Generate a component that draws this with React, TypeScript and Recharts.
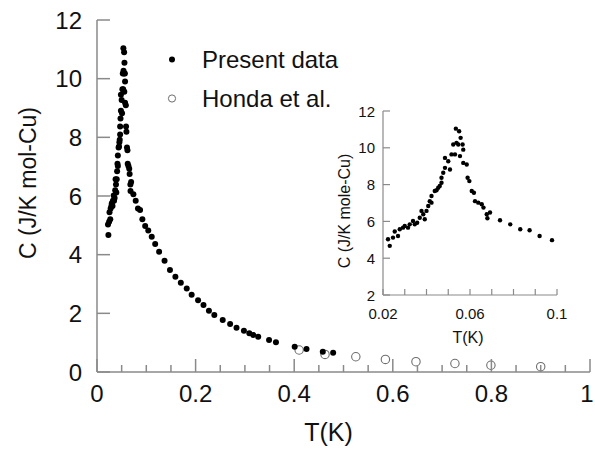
import React from 'react';
import { ScatterChart, Scatter, XAxis, YAxis, Legend } from 'recharts';

// Present data, low-T part (the peak region, also shown in the inset)
const peakT = [
  0.0223, 0.0231, 0.0246, 0.0254, 0.0269, 0.0277, 0.0292, 0.030, 0.0315, 0.0323,
  0.0338, 0.0346, 0.0357, 0.0369, 0.0377, 0.0385, 0.0392, 0.040, 0.0408, 0.0415,
  0.0423, 0.0423, 0.0438, 0.0446, 0.0454, 0.0461, 0.0469, 0.0469, 0.0477, 0.0485,
  0.0485, 0.050, 0.0508, 0.0515, 0.0523, 0.0531, 0.0535, 0.0538, 0.0546, 0.055,
  0.0554, 0.0557, 0.0566, 0.0569, 0.0569, 0.0585, 0.0589, 0.0597, 0.0608, 0.0618,
  0.0623, 0.0638, 0.0654, 0.0662, 0.0677, 0.068, 0.0692, 0.0738, 0.0785, 0.0831,
  0.0874, 0.092, 0.0977,
];
const peakC = [
  5.03, 4.67, 5.12, 5.45, 5.21, 5.57, 5.66, 5.75, 5.66, 5.84,
  6.02, 5.84, 5.93, 6.2, 6.57, 6.39, 6.12, 6.57, 6.84, 7.1,
  7.38, 7.02, 7.65, 7.69, 7.83, 7.92, 8.1, 8.37, 8.64, 8.91,
  9.45, 9.27, 8.82, 9.64, 10.18, 9.64, 11.04, 10.27, 10.18, 10.9,
  9.55, 10.54, 10.18, 9.9, 9.18, 9.09, 8.37, 8.19, 7.65, 7.56,
  7.1, 7.02, 6.93, 6.75, 6.39, 6.17, 6.48, 6.06, 5.84, 5.57,
  5.52, 5.21, 4.98,
];

// Present data, tail above 0.1 K
const tailT = [
  0.104, 0.111, 0.118, 0.126, 0.137, 0.148, 0.159, 0.170, 0.182, 0.192,
  0.205, 0.216, 0.227, 0.238, 0.255, 0.270, 0.283, 0.298, 0.309, 0.317,
  0.327, 0.349, 0.363, 0.401, 0.425, 0.458, 0.479,
];
const tailC = [
  4.82, 4.61, 4.36, 4.10, 3.79, 3.48, 3.25, 3.04, 2.85, 2.63,
  2.45, 2.28, 2.09, 1.94, 1.77, 1.64, 1.51, 1.41, 1.32, 1.26,
  1.2, 1.09, 1.01, 0.86, 0.78, 0.69, 0.66,
];

// Honda et al.
const hondaT = [0.41, 0.4625, 0.525, 0.585, 0.647, 0.726, 0.799, 0.9];
const hondaC = [0.75, 0.6, 0.52, 0.43, 0.35, 0.29, 0.23, 0.18];

const mainXTicks = [0, 0.05, 0.1, 0.15, 0.2, 0.25, 0.3, 0.35, 0.4, 0.45, 0.5, 0.55, 0.6, 0.65, 0.7, 0.75, 0.8, 0.85, 0.9, 0.95, 1];
const mainYTicks = [0, 2, 4, 6, 8, 10, 12];
const insetXTicks = [0.02, 0.03, 0.04, 0.05, 0.06, 0.07, 0.08, 0.09, 0.1];
const insetXLabels = [0.02, 0.06, 0.1];
const insetYTicks = [2, 4, 6, 8, 10, 12];

const zip = (t: number[], c: number[]) => t.map((v, i) => ({ t: v, c: c[i] }));
const presentData = [...zip(peakT, peakC), ...zip(tailT, tailC)];
const hondaData = zip(hondaT, hondaC);
const insetData = zip(peakT, peakC);

const AXIS = '#8a8a8a';
const INK = '#111';
const FONT = '"Liberation Sans", Arial, Helvetica, sans-serif';

const near = (a: number, b: number) => Math.abs(a - b) < 1e-6;
const isMajor = (v: number) => near(v / 0.2, Math.round(v / 0.2));

// ── main chart ticks (drawn inward) ─────────────────────────
const BottomTick = ({ x, y, payload }: any) => {
  const v = payload.value;
  const major = isMajor(v);
  // the last label sits on the page edge, nudge it in a little
  const dx = near(v, 1) ? -3 : 0;
  return (
    <g>
      <line x1={x} y1={y} x2={x} y2={y - (major ? 13 : 7)} stroke={AXIS} strokeWidth={1.5} />
      {major && (
        <text x={x + dx} y={y + 21} textAnchor="middle" dominantBaseline="central" fontSize={24} fontFamily={FONT} fill={INK}>
          {String(Math.round(v * 10) / 10)}
        </text>
      )}
    </g>
  );
};
const TopTick = ({ x, y, payload }: any) => {
  const major = isMajor(payload.value);
  return <line x1={x} y1={y} x2={x} y2={y + (major ? 13 : 7)} stroke={AXIS} strokeWidth={1.5} />;
};
const LeftTick = ({ x, y, payload }: any) => (
  <g>
    <line x1={x} y1={y} x2={x + 13} y2={y} stroke={AXIS} strokeWidth={1.5} />
    <text x={x - 15} y={y} textAnchor="end" dominantBaseline="central" fontSize={24} fontFamily={FONT} fill={INK}>
      {payload.value}
    </text>
  </g>
);
const RightTick = ({ x, y }: any) => <line x1={x} y1={y} x2={x - 13} y2={y} stroke={AXIS} strokeWidth={1.5} />;

// ── inset ticks ─────────────────────────────────────────────
const InsetBottomTick = ({ x, y, payload }: any) => {
  const v = payload.value;
  const lab = insetXLabels.some((l) => near(l, v));
  return (
    <g>
      <line x1={x} y1={y} x2={x} y2={y - 6} stroke={AXIS} strokeWidth={1.2} />
      {lab && (
        <text x={x} y={y + 18} textAnchor="middle" dominantBaseline="central" fontSize={15} fontFamily={FONT} fill={INK}>
          {String(Math.round(v * 100) / 100)}
        </text>
      )}
    </g>
  );
};
const InsetTopTick = ({ x, y }: any) => <line x1={x} y1={y} x2={x} y2={y + 6} stroke={AXIS} strokeWidth={1.2} />;
const InsetLeftTick = ({ x, y, payload }: any) => (
  <g>
    <line x1={x} y1={y} x2={x + 7} y2={y} stroke={AXIS} strokeWidth={1.2} />
    <text x={x - 8} y={y} textAnchor="end" dominantBaseline="central" fontSize={15} fontFamily={FONT} fill={INK}>
      {payload.value}
    </text>
  </g>
);
const InsetRightTick = ({ x, y }: any) => <line x1={x} y1={y} x2={x - 7} y2={y} stroke={AXIS} strokeWidth={1.2} />;

const Dot = (r: number) => (p: any) => <circle cx={p.cx} cy={p.cy} r={r} fill="#000" />;
const OpenDot = (p: any) => <circle cx={p.cx} cy={p.cy} r={4.2} fill="none" stroke="#6e6e6e" strokeWidth={1.1} />;

const LegendBox = () => (
  <div style={{ fontFamily: FONT, fontSize: 24, color: INK, lineHeight: '39px' }}>
    <div style={{ display: 'flex', alignItems: 'center', height: 39 }}>
      <svg width={42} height={39}><circle cx={12} cy={19.5} r={3} fill="#000" /></svg>
      <span>Present data</span>
    </div>
    <div style={{ display: 'flex', alignItems: 'center', height: 39 }}>
      <svg width={42} height={39}><circle cx={12} cy={19.5} r={3.6} fill="none" stroke="#6e6e6e" strokeWidth={1} /></svg>
      <span>Honda et al.</span>
    </div>
  </div>
);

export default function App() {
  return (
    <div style={{ position: 'absolute', left: 0, top: 0, width: 595, height: 450, background: '#fff' }}>
      <ScatterChart width={595} height={450} margin={{ top: 20, right: 5, left: 0, bottom: 0 }}>
        <XAxis
          xAxisId="b" dataKey="t" type="number" domain={[0, 1]} ticks={mainXTicks} interval={0}
          allowDataOverflow height={78} tickLine={false} tickSize={0} tickMargin={0}
          axisLine={{ stroke: AXIS, strokeWidth: 1.5 }} tick={<BottomTick />}
          label={{
            content: ({ viewBox }: any) => (
              <text x={viewBox.x + viewBox.width / 2 - 15} y={viewBox.y + 60} textAnchor="middle"
                dominantBaseline="central" fontSize={25} fontFamily={FONT} fill={INK}>T(K)</text>
            ),
          }}
        />
        <XAxis
          xAxisId="t" orientation="top" dataKey="t" type="number" domain={[0, 1]} ticks={mainXTicks} interval={0}
          allowDataOverflow height={0} tickLine={false} tickSize={0} tickMargin={0}
          axisLine={{ stroke: AXIS, strokeWidth: 1.5 }} tick={<TopTick />}
        />
        <YAxis
          yAxisId="l" dataKey="c" type="number" domain={[0, 12]} ticks={mainYTicks} interval={0}
          allowDataOverflow width={97} tickLine={false} tickSize={0} tickMargin={0}
          axisLine={{ stroke: AXIS, strokeWidth: 1.5 }} tick={<LeftTick />}
          label={{
            content: ({ viewBox }: any) => {
              const cy = viewBox.y + viewBox.height / 2 - 13;
              return (
                <text x={28} y={cy} transform={`rotate(-90 28 ${cy})`} textAnchor="middle"
                  dominantBaseline="central" fontSize={23} fontFamily={FONT} fill={INK}>C (J/K mol-Cu)</text>
              );
            },
          }}
        />
        <YAxis
          yAxisId="r" orientation="right" dataKey="c" type="number" domain={[0, 12]} ticks={mainYTicks} interval={0}
          allowDataOverflow width={0} tickLine={false} tickSize={0} tickMargin={0}
          axisLine={{ stroke: AXIS, strokeWidth: 1.5 }} tick={<RightTick />}
        />
        <Legend
          layout="vertical" verticalAlign="middle" align="center"
          wrapperStyle={{ position: 'absolute', left: 160, top: 40, width: 200 }}
          content={() => <LegendBox />}
        />
        <Scatter name="Honda et al." data={hondaData} xAxisId="b" yAxisId="l" shape={OpenDot} isAnimationActive={false} />
        <Scatter name="Present data" data={presentData} xAxisId="b" yAxisId="l" shape={Dot(3)} isAnimationActive={false} />
      </ScatterChart>

      <div style={{ position: 'absolute', left: 330, top: 95 }}>
        <ScatterChart width={240} height={255} margin={{ top: 16, right: 13, left: 0, bottom: 0 }}>
          <XAxis
            xAxisId="b" dataKey="t" type="number" domain={[0.02, 0.1]} ticks={insetXTicks} interval={0}
            allowDataOverflow height={55} tickLine={false} tickSize={0} tickMargin={0}
            axisLine={{ stroke: AXIS, strokeWidth: 1.2 }} tick={<InsetBottomTick />}
            label={{
              content: ({ viewBox }: any) => (
                <text x={viewBox.x + viewBox.width / 2 - 2} y={viewBox.y + 42} textAnchor="middle"
                  dominantBaseline="central" fontSize={16} fontFamily={FONT} fill={INK}>T(K)</text>
              ),
            }}
          />
          <XAxis
            xAxisId="t" orientation="top" dataKey="t" type="number" domain={[0.02, 0.1]} ticks={insetXTicks} interval={0}
            allowDataOverflow height={0} tickLine={false} tickSize={0} tickMargin={0}
            axisLine={{ stroke: AXIS, strokeWidth: 1.2 }} tick={<InsetTopTick />}
          />
          <YAxis
            yAxisId="l" dataKey="c" type="number" domain={[2, 12]} ticks={insetYTicks} interval={0}
            allowDataOverflow width={53} tickLine={false} tickSize={0} tickMargin={0}
            axisLine={{ stroke: AXIS, strokeWidth: 1.2 }} tick={<InsetLeftTick />}
            label={{
              content: ({ viewBox }: any) => {
                const cy = viewBox.y + viewBox.height / 2 + 8;
                return (
                  <text x={14} y={cy} transform={`rotate(-90 14 ${cy})`} textAnchor="middle"
                    dominantBaseline="central" fontSize={16} fontFamily={FONT} fill={INK}>C (J/K mole-Cu)</text>
                );
              },
            }}
          />
          <YAxis
            yAxisId="r" orientation="right" dataKey="c" type="number" domain={[2, 12]} ticks={insetYTicks} interval={0}
            allowDataOverflow width={0} tickLine={false} tickSize={0} tickMargin={0}
            axisLine={{ stroke: AXIS, strokeWidth: 1.2 }} tick={<InsetRightTick />}
          />
          <Scatter name="inset" data={insetData} xAxisId="b" yAxisId="l" shape={Dot(2.2)} isAnimationActive={false} />
        </ScatterChart>
      </div>
    </div>
  );
}
